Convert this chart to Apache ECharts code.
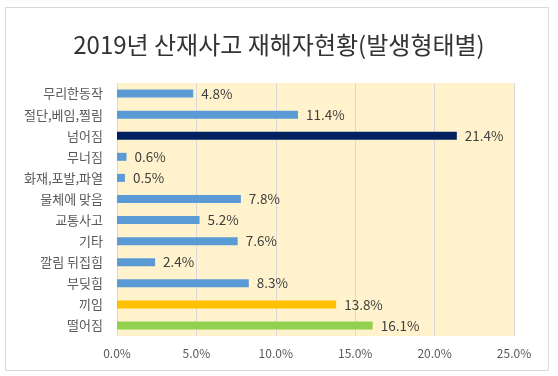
<!DOCTYPE html>
<html>
<head>
<meta charset="utf-8">
<script src="https://cdn.jsdelivr.net/npm/echarts@6/dist/echarts.min.js"></script>
<style>
  html, body { margin: 0; padding: 0; background: #fff; }
  #main { width: 558px; height: 376px; }
</style>
</head>
<body>
<div id="main"></div>
<script>
// 발생형태별 재해자 비율 (위에서 아래 순서)
var categories = ['무리한동작', '절단,베임,찔림', '넘어짐', '무너짐', '화재,포발,파열', '물체에 맞음',
  '교통사고', '기타', '깔림 뒤집힘', '부딪힘', '끼임', '떨어짐']
var values = [4.8, 11.4, 21.4, 0.6, 0.5, 7.8, 5.2, 7.6, 2.4, 8.3, 13.8, 16.1]
var barColors = ['#5B9BD5', '#5B9BD5', '#002060', '#5B9BD5', '#5B9BD5', '#5B9BD5',
  '#5B9BD5', '#5B9BD5', '#5B9BD5', '#5B9BD5', '#FFC000', '#92D050']
var xTicks = { min: 0, max: 25, interval: 5 }

var font = '"Noto Sans CJK KR", "Noto Sans", sans-serif'

var chart = echarts.init(document.getElementById('main'))
chart.setOption({
  backgroundColor: '#fff',
  animation: false,
  title: {
    text: '2019년 산재사고 재해자현황(발생형태별)',
    left: 'center',
    top: 28,
    textStyle: { fontFamily: font, fontSize: 24, fontWeight: 'normal', color: '#333' }
  },
  graphic: [{
    type: 'rect',
    shape: { x: 5.5, y: 7.5, width: 543, height: 363 },
    style: { fill: 'none', stroke: '#D9D9D9', lineWidth: 1 },
    silent: true
  }],
  grid: { left: 117, right: 44, top: 83, bottom: 40, backgroundColor: '#FFF2CC', show: true, borderWidth: 0 },
  xAxis: {
    type: 'value',
    min: xTicks.min,
    max: xTicks.max,
    interval: xTicks.interval,
    axisLine: { show: false },
    axisTick: { show: false },
    splitLine: { lineStyle: { color: '#D9D9D9', width: 1 } },
    axisLabel: {
      margin: 11,
      fontFamily: font, fontSize: 12, color: '#595959',
      formatter: function (v) { return v.toFixed(1) + '%' }
    }
  },
  yAxis: {
    type: 'category',
    inverse: true,
    data: categories,
    axisLine: { show: false },
    axisTick: { show: false },
    axisLabel: { margin: 14, fontFamily: font, fontSize: 13, color: '#595959' }
  },
  series: [{
    type: 'bar',
    barWidth: 8,
    data: values.map(function (v, i) {
      return { value: v, itemStyle: { color: barColors[i] } }
    }),
    label: {
      show: true,
      position: 'right',
      distance: 8,
      fontFamily: font, fontSize: 13.5, color: '#404040',
      formatter: function (p) { return p.value.toFixed(1) + '%' }
    }
  }]
})
</script>
</body>
</html>
